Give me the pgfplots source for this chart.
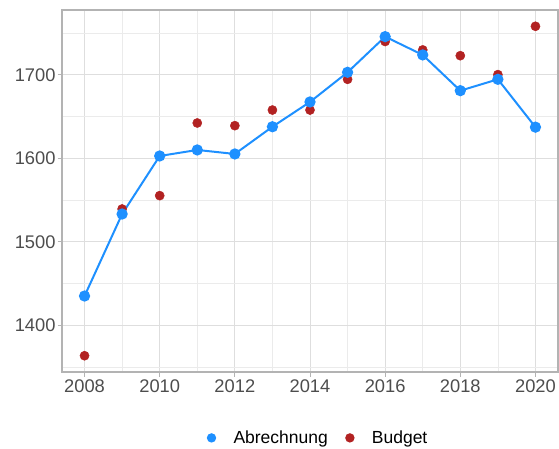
\documentclass[border=0pt]{standalone}
\usepackage{fontspec}
\setmainfont{Liberation Sans}
\usepackage{pgfplots}
\pgfplotsset{compat=1.18}
\definecolor{blueA}{HTML}{1E90FF}
\definecolor{redB}{HTML}{B22222}
\definecolor{gridmaj}{HTML}{DEDEDE}
\definecolor{gridmin}{HTML}{EBEBEB}
\definecolor{bordc}{HTML}{B3B3B3}
\definecolor{ticklab}{HTML}{4D4D4D}
\begin{document}
\begin{tikzpicture}
\begin{axis}[
  scale only axis, width=496pt, height=362pt,
  xmin=2007.4, xmax=2020.6, ymin=1344.3, ymax=1777.8,
  xtick={2008,2010,...,2020}, minor xtick={2009,2011,...,2019},
  ytick={1400,1500,1600,1700}, minor ytick={1350,1450,1550,1650,1750},
  grid=both,
  major grid style={gridmaj, line width=1pt},
  minor grid style={gridmin, line width=0.6pt},
  axis line style={bordc, line width=1.1pt},
  tick align=outside, major tick length=4.5pt, minor tick length=0pt,
  tick pos=left,
  every tick/.style={bordc, line width=1pt},
  /pgf/number format/assume math mode=true,
  /pgf/number format/1000 sep={},
  ticklabel style={font=\fontsize{18.3}{21}\selectfont, text=ticklab},
  yticklabel style={xshift=1.5pt},
  legend style={at={(0.516,-0.182)}, anchor=center, draw=none, fill=none,
    font=\fontsize{17.5}{20}\selectfont,
    /tikz/every even column/.append style={column sep=15pt}},
  legend columns=2,
  legend cell align=left,
  legend image code/.code={\fill[#1, draw=none] (0pt,0pt) circle (4.7pt); \path[draw=none, fill=none] (-5pt,-4pt) rectangle (20pt,4pt);},
]
\addlegendimage{blueA}
\addlegendentry{Abrechnung}
\addlegendimage{redB}
\addlegendentry{Budget}
% Budget
\addplot[forget plot, only marks, mark=*, mark size=4.6pt, redB] coordinates {
 (2008,1363.8) (2009,1539.5) (2010,1555.5) (2011,1642.5) (2012,1639.3)
 (2013,1658) (2014,1658) (2015,1694.8) (2016,1740.1) (2017,1730)
 (2018,1723.1) (2019,1700.4) (2020,1758.3)};
% Abrechnung
\addplot[forget plot, blueA, line width=2pt, mark=*, mark size=4.6pt] coordinates {
 (2008,1435.3) (2009,1533.5) (2010,1603) (2011,1610.2) (2012,1605.4)
 (2013,1638) (2014,1667.7) (2015,1703.2) (2016,1745.9) (2017,1724)
 (2018,1681.2) (2019,1694.8) (2020,1637.5)};
\end{axis}
\pgfresetboundingbox
\useasboundingbox ([xshift=-62pt,yshift=-76pt]current axis.south west) rectangle ([xshift=1pt,yshift=10pt]current axis.north east);
\end{tikzpicture}
\end{document}
